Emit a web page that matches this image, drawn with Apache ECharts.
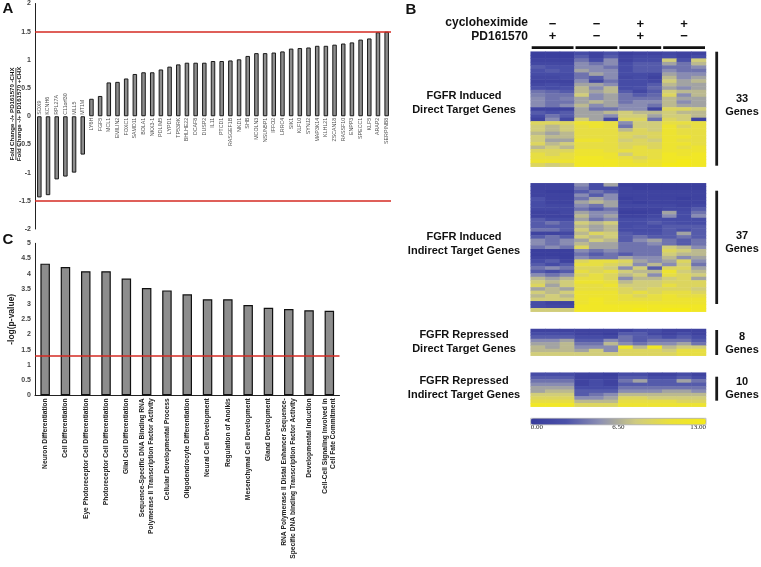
<!DOCTYPE html>
<html><head><meta charset="utf-8">
<script src="https://cdn.jsdelivr.net/npm/echarts@6/dist/echarts.min.js"></script>
<style>html,body{margin:0;padding:0;background:#fff}#c{width:761px;height:567px}</style>
</head><body><div id="c"></div>
<script>
// ---------- Panel A data ----------
const geneNames = ['SOX9','KCNH6','RPL27A','C11orf30','MLL5','MT1M','LY6H','FGF5','MCL1','EMILIN2','FOXC1','SAMD11','BOLA1','NKX3-1','PDLIM5','LYPD1','TP53RK','BHLHE22','DCAF8','DUSP2','IL11','PTCD1','RASGEF1B','NKD1','SHB','MCOLN3','NSUN5P1','IFFO2','LRRC4','SIK1','KLF10','SYNJ2','MAP3K14','KLHL21','ZSCAN18','RASSF10','ENPP3','SPECC1','KLF5','ARAP2','SERPINB8'];
const foldValues = [-1.44,-1.40,-1.12,-1.07,-1.00,-0.68,0.31,0.36,0.60,0.61,0.67,0.75,0.78,0.78,0.83,0.88,0.92,0.95,0.95,0.95,0.98,0.98,0.99,1.01,1.07,1.12,1.12,1.13,1.15,1.20,1.21,1.22,1.25,1.25,1.27,1.29,1.31,1.36,1.38,1.49,1.50];
const foldThresholds = [1.5, -1.5];
const aTitleTop = 'Fold Change -/+ PD161570 -CHX';
const aTitleBottom = 'Fold Change -/+ PD161570 +CHX';

// ---------- Panel C data ----------
const goTerms = ['Neuron Differentiation','Cell Differentiation','Eye Photoreceptor Cell Differentiation','Photoreceptor Cell Differentiation','Glial Cell Differentiation','Sequence-Specific DNA Binding RNA\nPolymerase II Transcription Factor Activity','Cellular Developmental Process','Oligodendrocyte Differentiation','Neural Cell Development','Regulation of Anoikis','Mesenchymal Cell Development','Gland Development','RNA Polymerase II Distal Enhancer Sequence-\nSpecific DNA binding Transcription Factor Activity','Developmental Induction','Cell-Cell Signaling Involved in\nCell Fate Commitment'];
const goValues = [4.33,4.22,4.08,4.08,3.84,3.53,3.45,3.32,3.16,3.16,2.97,2.88,2.84,2.80,2.78];
const pThreshold = 1.3;

// ---------- Panel B data ----------
const cycloheximide = ['−','−','+','+'];
const pd161570 = ['+','−','+','−'];
const hmTitles = ['FGFR Induced\nDirect Target Genes','FGFR Induced\nIndirect Target Genes','FGFR Repressed\nDirect Target Genes','FGFR Repressed\nIndirect Target Genes'];
const hmCounts = ['33\nGenes','37\nGenes','8\nGenes','10\nGenes'];
const colorbarLabels = ['0.00','6.50','13.00'];

const inducedDirect = [
[0.5,0.5,0.5, 2,1,2.5, 0.5,1,1, 1.5,1,1],
[0.5,0.5,0.5, 3,1,3, 1,1.5,1.5, 2,1,2],
[1,1,1, 4,2,5, 1,2,2, 8,2.5,8],
[1.5,1.5,1.5, 5,4,5, 2,3,3, 6,4,7],
[3,2.5,2.5, 5,5,4, 2,3,3, 4,4,5],
[2.5,3,2.5, 6,5,5, 2,3,3, 5,4,4],
[2,2,2, 4,6,5, 2,2,1.5, 6,5,5],
[1.5,1.5,2, 4,3,5, 1.5,2,1, 7,5,6],
[1,1,1, 5,1.5,4, 2,2,1.5, 8,6,7],
[1.5,2,1.5, 6,6,5, 2,2,3, 7,6,6],
[2.5,2,2.5, 7,5,7, 2,2.5,3.5, 6,5,6],
[4,3.5,3, 7,6,7, 3,1.5,3, 8,7,7],
[4.5,4,4, 8,5,6, 4,3,3.5, 9,5,7],
[5,4,4.5, 6,5,6, 4,4,4, 7,6,6],
[5,4,4, 6,7,6, 4,5,5, 7,5,6],
[5,4,5, 7,5,6, 5,5,4, 7,6,6],
[1,1,1, 6,4,4, 5,5,1, 9,9,8],
[3,2.5,3, 6,6,7, 8,7,7, 8,7,7],
[2,4,3, 6,6,5, 8,8,6, 8,8,7],
[1,5,1.5, 8,6,1.5, 9,9,4, 9,8,1],
[9,9,9, 11,11,10, 5,8,8, 10,10,10],
[8,7,8, 10,11,10, 4,8,8, 11,9,10],
[8,7,8, 10,10,10, 7,9,8, 11,10,10],
[7,6,7, 10,10,10, 9,9,9, 11,10,10],
[8,7,7, 10,10,10, 9,8,9, 11,11,10],
[8,6,6, 11,11,10, 8,9,8, 11,10,10],
[9,7,8, 10,10,10, 9,9,9, 11,11,10],
[7,8,7, 10,10,10, 9,10,9, 11,10,11],
[9,9,9, 11,11,10, 10,10,10, 11,11,11],
[10,9,10, 11,11,11, 8,10,10, 12,11,12],
[10,10,10, 12,12,11, 10,9,10, 12,12,12],
[11,11,11, 12,12,12, 11,10,11, 12,13,12],
[9,8,9, 12,12,12, 11,11,11, 13,13,12]
];
const inducedIndirect = [
[1,1,1, 5,2,6, 0.5,0.5,0.5, 0.5,0.5,0.5],
[1,1,1, 4,2,2, 1,0.5,0.5, 0.5,0.5,0.5],
[1,0.5,0.5, 3,4,3, 1,1,1, 1,1,1],
[1,1,1, 5,3,5, 1,1,1, 1,1,1],
[2.5,1,1, 4,6,5, 0.5,1,1, 1,0.5,1],
[2,1,1, 6,7,6, 1,0.5,1, 1,1,1],
[2,1.5,1.5, 5,4,6, 1.5,1.5,1.5, 1.5,1,1.5],
[1.5,1.5,1.5, 4,3,4, 1,1,1, 1.5,1.5,3],
[1,1,1.5, 6,5,5, 0.5,0.5,1, 6,2,4],
[1,1,1, 7,5,6, 1,1,1.5, 5,2,5],
[3,2,2, 6,4,5, 2,2,2.5, 2,2,2],
[3,4,3, 8,7,8, 2,2,3, 2.5,2,2],
[3,3,3, 7,6,7, 2,2.5,2, 3,3,3],
[4,4,3, 8,6,7, 2,2,2, 3,2.5,3],
[1,1,1.5, 7,9,8, 3,2.5,2.5, 3,6,3],
[3,4,3, 8,7,8, 3,4,3, 3,4,3],
[5,4,5, 6,8,7, 3,5,6, 4,3,4],
[5,4,5, 7,6,6, 4,4,5, 4,3,4],
[4,5,4, 9,6,6, 4,4,4, 8,7,5],
[0.5,0.5,0.5, 5,4,5, 4,4,4, 9,8,7],
[0.5,0.5,0.5, 4,3,4, 3,4,4, 8,7,7],
[1,1,0.5, 5,4,4, 6,5,5, 7,5,6],
[2,3,1, 9,10,10, 9,6,5, 6,9,5],
[3,2,3, 10,10,9, 8,5,7, 5,8,4],
[4,5,4, 9,9,8, 5,8,3, 9,9,6],
[3,2,3, 10,9,10, 8,7,7, 11,8,7],
[5,4,5, 9,10,9, 7,8,5, 10,9,8],
[7,6,7, 10,10,9, 5,7,7, 8,9,6],
[8,7,8, 11,11,10, 7,8,8, 9,9,9],
[9,6,8, 10,10,11, 8,8,8, 10,9,9],
[6,7,6, 10,10,10, 9,8,9, 9,9,8],
[8,7,8, 11,11,11, 9,10,9, 10,10,9],
[7,8,7, 11,11,11, 10,9,10, 11,10,10],
[8,8,8, 11,12,11, 10,10,10, 11,11,11],
[2,1,1, 11,12,11, 11,11,11, 11,11,11],
[2,1.5,1.5, 12,12,12, 12,12,12, 12,12,12],
[8,8,8, 12,12,12, 12,13,12, 13,13,12]
];
const repressedDirect = [
[1,1,1, 1,1,1, 1,2,2, 1,1,1],
[2,2,2, 1,1,0.5, 3,3,1.5, 1,2,1],
[3,3,3, 2,2,1.5, 4,3,3, 2,3,2],
[5,5,6, 3,3,5, 4,3,4, 4,4,3],
[6,6,7, 4,4,7, 5,4,5, 5,6,4],
[7,6,7, 5,5,5, 12,7,12, 7,8,8],
[7,7,7, 6,8,5, 9,9,9, 8,10,10],
[8,8,8, 8,8,8, 9,9,9, 9,10,10]
];
const repressedIndirect = [
[2,2,2, 1,1,0.5, 2,2,1, 1,2,1],
[3,3,3, 1,1,1, 3,3,2, 2,3,2],
[4,4,4, 1,2,1, 4,6,3, 3,6,4],
[5,5,5, 1,2,1, 3,3,3, 3,3,3],
[6,6,6, 2,2,2, 4,4,4, 4,4,4],
[6,7,7, 3,3,3, 5,5,5, 6,6,5],
[8,8,8, 3,4,5, 7,7,7, 7,7,7],
[9,9,9, 5,5,6, 9,9,8, 8,8,8],
[10,10,10, 7,7,7, 10,10,10, 10,9,9],
[12,12,12, 9,9,9, 11,11,11, 11,11,11]
];
const heatmaps = [inducedDirect, inducedIndirect, repressedDirect, repressedIndirect];

// ---------- layout ----------
const FONT = '"Liberation Sans", Arial, Helvetica, sans-serif';
const hmLeft = 530.7, hmWidth = 175.3;
const hmBoxes = [[51.7,115],[183.3,128.4],[329,26.7],[372.7,34]];
const hmTitleY = [102.5, 244.3, 342, 388.3];
const hmCountY = [105.3, 242.7, 343.7, 388.3];
const hmBarSpans = [[51.7,165.7],[190.7,304],[330,355],[376.7,400.7]];

const chart = echarts.init(document.getElementById('c'), null, {renderer:'canvas'});

const grids = [
  {left:35, top:3, width:356, height:226},
  {left:35, top:243.3, width:304.5, height:152}
];
hmBoxes.forEach(b => grids.push({left:hmLeft, top:b[0], width:hmWidth, height:b[1]}));

const axisLabelStyle = {fontSize:7, fontWeight:'bold', color:'#444', fontFamily:FONT, margin:4};
const xAxes = [
  {gridIndex:0, type:'category', data:geneNames, axisLine:{show:false}, axisTick:{show:false}, axisLabel:{show:false}},
  {gridIndex:1, type:'category', data:goTerms, axisLine:{show:true, lineStyle:{color:'#222', width:1}}, axisTick:{show:false},
   axisLabel:{interval:0, rotate:90, fontSize:6.7, fontWeight:'bold', color:'#222', fontFamily:FONT, margin:3, lineHeight:8.5}}
];
const yAxes = [
  {gridIndex:0, type:'value', min:-2, max:2, interval:0.5, axisLine:{show:true, lineStyle:{color:'#222', width:1}}, axisTick:{show:false}, splitLine:{show:false}, axisLabel:axisLabelStyle},
  {gridIndex:1, type:'value', min:0, max:5, interval:0.5, axisLine:{show:true, lineStyle:{color:'#222', width:1}}, axisTick:{show:false}, splitLine:{show:false}, axisLabel:axisLabelStyle,
   name:'-log(p-value)', nameLocation:'middle', nameRotate:90, nameGap:19, nameTextStyle:{fontSize:8.5, fontWeight:'bold', color:'#222', fontFamily:FONT}}
];
const series = [
  {type:'bar', xAxisIndex:0, yAxisIndex:0, data:foldValues, barWidth:4.5, silent:true,
   itemStyle:{color:'#8d8d8d', borderColor:'#1a1a1a', borderWidth:1},
   markLine:{silent:true, symbol:'none', label:{show:false}, lineStyle:{color:'#d42a22', width:1.5, type:'solid'},
     data: foldThresholds.map(v => ({yAxis:v}))}},
  {type:'scatter', xAxisIndex:0, yAxisIndex:0, symbolSize:0, silent:true, z:5,
   data: foldValues.map((v,i) => ({value:[i,0], label:{position: v>=0 ? 'bottom':'top', align: v>=0 ? 'right':'left'}})),
   label:{show:true, rotate:90, verticalAlign:'middle', distance:1.5, fontSize:5.3, color:'#222', fontFamily:FONT,
     formatter: p => geneNames[p.dataIndex]}},
  {type:'bar', xAxisIndex:1, yAxisIndex:1, data:goValues, barWidth:9.5, silent:true,
   itemStyle:{color:'#8d8d8d', borderColor:'#111', borderWidth:1.2},
   markLine:{silent:true, symbol:'none', label:{show:false}, lineStyle:{color:'#d42a22', width:1.5, type:'solid'},
     data:[{yAxis:pThreshold}]}}
];
const cols = Array.from({length:12}, (_,i) => 'c'+i);
heatmaps.forEach((rows, k) => {
  const gi = k + 2;
  xAxes.push({gridIndex:gi, type:'category', data:cols, show:false});
  yAxes.push({gridIndex:gi, type:'category', data:rows.map((_,r)=>'r'+r), inverse:true, show:false});
  const data = [];
  rows.forEach((row, r) => row.forEach((v, c) => data.push([c, r, v])));
  series.push({type:'heatmap', xAxisIndex:gi, yAxisIndex:gi, data, silent:true, itemStyle:{borderWidth:0}, emphasis:{disabled:true}});
});

// graphics
function txt(x, y, text, size, opts) {
  opts = opts || {};
  const el = {type:'text', x, y, silent:true,
    style:Object.assign({text, fontSize:size, fontWeight:'bold', fontFamily:FONT, fill:'#111', align:'center', verticalAlign:'middle'}, opts.style || {})};
  if (opts.rotation !== undefined) el.rotation = opts.rotation;
  return el;
}
const graphic = [];
graphic.push(txt(8, 9, 'A', 15));
graphic.push(txt(411, 10, 'B', 15));
graphic.push(txt(8, 240, 'C', 15));
// A axis title (fraction)
graphic.push(txt(12.5, 114, aTitleTop, 6.1, {rotation:Math.PI/2}));
graphic.push(txt(19.4, 114, aTitleBottom, 6.1, {rotation:Math.PI/2}));
graphic.push({type:'line', silent:true, shape:{x1:15.9, y1:68, x2:15.9, y2:160}, style:{stroke:'#111', lineWidth:0.8}});
// B header
const groupW = hmWidth / 4;
graphic.push(txt(528, 23, 'cycloheximide', 12, {style:{align:'right'}}));
graphic.push(txt(528, 36.5, 'PD161570', 12, {style:{align:'right'}}));
for (let g = 0; g < 4; g++) {
  const cx = hmLeft + groupW * (g + 0.5);
  graphic.push(txt(cx, 24, cycloheximide[g], 13));
  graphic.push(txt(cx, 36.5, pd161570[g], 13));
  graphic.push({type:'rect', silent:true, shape:{x:hmLeft + groupW*g + 1, y:46.3, width:groupW - 2, height:2.8}, style:{fill:'#111'}});
}
hmTitles.forEach((t, k) => graphic.push(txt(464, hmTitleY[k], t, 11, {style:{lineHeight:14}})));
hmCounts.forEach((t, k) => graphic.push(txt(742, hmCountY[k], t, 11, {style:{lineHeight:13.5}})));
hmBarSpans.forEach(s => graphic.push({type:'rect', silent:true, shape:{x:715.3, y:s[0], width:2.8, height:s[1]-s[0]}, style:{fill:'#1a1a1a'}}));
// colorbar labels
const cbTop = 418.3, cbH = 6.5;
colorbarLabels.forEach((t, i) => {
  const x = hmLeft + hmWidth * i / (colorbarLabels.length - 1);
  graphic.push(txt(x, 427.5, t, 7, {style:{fontWeight:'normal', fontFamily:'"Liberation Serif", serif', align: i===0 ? 'left' : (i===colorbarLabels.length-1 ? 'right':'center'), fill:'#222'}}));
});
graphic.push({type:'rect', silent:true, z:100, shape:{x:hmLeft, y:cbTop, width:hmWidth, height:cbH}, style:{fill:'none', stroke:'#9a9aa0', lineWidth:0.6}});

chart.setOption({
  animation:false,
  backgroundColor:'#fff',
  grid:grids, xAxis:xAxes, yAxis:yAxes, series,
  visualMap:{type:'continuous', min:0, max:13, seriesIndex:[3,4,5,6], orient:'horizontal', left:hmLeft, top:cbTop,
    itemWidth:cbH, itemHeight:hmWidth, calculable:false, hoverLink:false, padding:0, text:null, showLabel:false,
    inRange:{color:['#373b9b','#4b51a9','#8e91b3','#cfcb80','#ebe138','#f4ea1a']}},
  graphic
});
</script></body></html>
